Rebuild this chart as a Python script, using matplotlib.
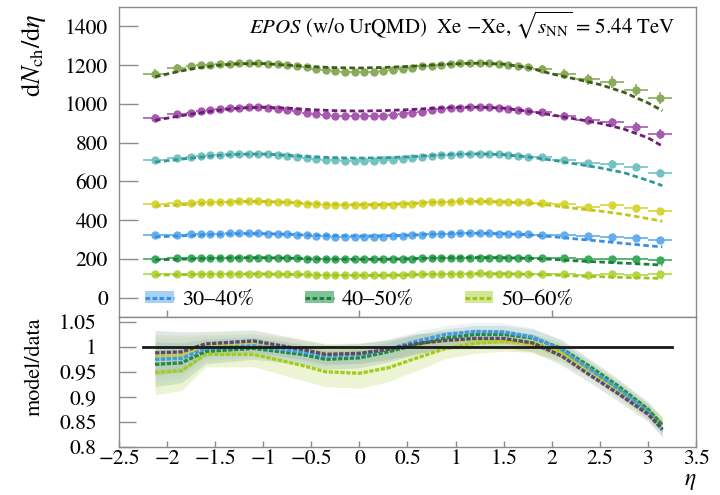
import matplotlib
matplotlib.use("Agg")
import matplotlib.pyplot as plt
from matplotlib.patches import Patch
from matplotlib.lines import Line2D
from matplotlib.ticker import FixedLocator, FuncFormatter

plt.rcParams['font.family'] = ['STIXGeneral', 'DejaVu Serif']
plt.rcParams['mathtext.fontset'] = 'stix'

# ---------------- data ----------------
eta = [-2.125, -1.9, -1.75, -1.65, -1.55, -1.45, -1.35, -1.25, -1.15, -1.05, -0.95,
       -0.85, -0.75, -0.65, -0.55, -0.45, -0.35, -0.25, -0.15, -0.05, 0.05, 0.15,
       0.25, 0.35, 0.45, 0.55, 0.65, 0.75, 0.85, 0.95, 1.05, 1.15, 1.25, 1.35, 1.45,
       1.55, 1.65, 1.75, 1.9, 2.125, 2.375, 2.625, 2.875, 3.125]
eta_halfwidth = [0.125, 0.1, 0.05, 0.05, 0.05, 0.05, 0.05, 0.05, 0.05, 0.05, 0.05,
                 0.05, 0.05, 0.05, 0.05, 0.05, 0.05, 0.05, 0.05, 0.05, 0.05, 0.05,
                 0.05, 0.05, 0.05, 0.05, 0.05, 0.05, 0.05, 0.05, 0.05, 0.05, 0.05, 0.05, 0.05,
                 0.05, 0.05, 0.05, 0.1, 0.125, 0.125, 0.125, 0.125, 0.125]
rel_err = [0.02, 0.018, 0.012, 0.012, 0.012, 0.012, 0.012, 0.012, 0.012, 0.012, 0.012,
           0.012, 0.012, 0.012, 0.012, 0.012, 0.012, 0.012, 0.012, 0.012, 0.012, 0.012,
           0.012, 0.012, 0.012, 0.012, 0.012, 0.012, 0.012, 0.012, 0.012, 0.012, 0.012, 0.012, 0.012,
           0.012, 0.012, 0.012, 0.018, 0.022, 0.025, 0.027, 0.028, 0.03]

data_0_5 = [1156, 1185, 1195, 1200, 1203, 1205, 1208, 1210, 1212, 1210, 1208, 1205, 1200, 1195,
            1188, 1180, 1175, 1170, 1167, 1166, 1166, 1167, 1170, 1175, 1180, 1187, 1193, 1198,
            1203, 1206, 1209, 1211, 1212, 1210, 1207, 1200, 1197, 1192, 1180, 1156, 1128, 1112,
            1072, 1032]
data_5_10 = [927, 948, 955, 962, 968, 972, 977, 980, 982, 982, 980, 976, 970, 962, 955, 948,
             943, 940, 938, 937, 937, 938, 940, 943, 947, 953, 960, 967, 973, 977, 980, 982,
             983, 982, 979, 975, 970, 965, 958, 937, 915, 905, 880, 843]
data_10_20 = [712, 722, 727, 730, 734, 737, 740, 741, 742, 741, 739, 735, 731, 726, 720, 715,
              711, 708, 706, 705, 705, 706, 708, 711, 715, 720, 725, 730, 734, 738, 741, 742,
              743, 742, 739, 735, 731, 728, 726, 712, 695, 692, 674, 645]
data_20_30 = [481, 487, 490, 492, 494, 495, 496, 497, 497, 497, 496, 494, 491, 488, 485, 482,
              480, 478, 477, 476, 476, 477, 478, 480, 482, 485, 488, 491, 494, 496, 497, 498,
              498, 497, 496, 494, 492, 491, 490, 482, 470, 476, 461, 447]
data_30_40 = [322, 325, 327, 328, 329, 330, 331, 331, 331, 331, 330, 328, 326, 324, 321, 319,
              317, 315, 314, 314, 314, 314, 315, 317, 319, 321, 324, 326, 328, 330, 331, 332,
              332, 331, 330, 329, 328, 327, 325, 321, 317, 315, 309, 300]
data_40_50 = [201, 203, 204, 205, 205, 206, 206, 207, 207, 207, 206, 205, 204, 203, 201, 200,
              199, 198, 198, 197, 197, 198, 198, 199, 200, 201, 203, 204, 205, 206, 207, 207,
              207, 207, 206, 206, 205, 205, 204, 202, 199, 201, 198, 193]
data_50_60 = [121, 122, 122, 123, 123, 124, 124, 124, 124, 124, 124, 123, 122, 121, 120, 119,
              119, 118, 118, 118, 118, 118, 118, 119, 119, 120, 121, 122, 123, 124, 124, 124,
              125, 124, 124, 124, 123, 123, 122, 121, 118, 121, 118, 120]

eta_model = [-2.125, -1.9, -1.75, -1.5, -1.25, -1.0, -0.75, -0.5, -0.25, 0.0, 0.25, 0.5,
             0.75, 1.0, 1.25, 1.5, 1.75, 2.0, 2.25, 2.5, 2.75, 3.0, 3.15]
model_0_5 = [1140, 1165, 1180, 1198, 1207, 1208, 1200, 1192, 1187, 1185, 1188, 1193, 1200,
             1207, 1210, 1205, 1188, 1155, 1128, 1100, 1060, 1005, 965]
model_5_10 = [915, 935, 947, 965, 978, 983, 978, 970, 965, 963, 965, 970, 977, 982, 983, 978,
              962, 943, 922, 900, 870, 825, 782]
model_10_20 = [700, 712, 720, 733, 740, 741, 735, 727, 722, 720, 722, 727, 734, 740, 742, 738,
               727, 710, 690, 670, 645, 605, 578]
model_20_30 = [472, 478, 482, 490, 495, 496, 492, 485, 481, 480, 481, 485, 491, 495, 496, 494,
               488, 476, 460, 447, 430, 408, 395]
model_30_40 = [313, 318, 321, 326, 330, 330, 327, 322, 319, 318, 319, 322, 327, 331, 332, 330,
               324, 315, 303, 292, 280, 268, 262]
model_40_50 = [195, 198, 200, 203, 206, 206, 204, 200, 198, 198, 198, 200, 204, 206, 207, 206,
               203, 198, 190, 184, 178, 172, 168]
model_50_60 = [116, 118, 119, 121, 122, 122, 120, 117, 115, 114, 115, 117, 120, 122, 123, 123,
               121, 117, 112, 108, 104, 101, 99]

# ratio panel
eta_ratio = [-2.125, -1.85, -1.6, -1.1, -0.6, -0.35, 0.0, 0.3, 0.6, 0.9, 1.2, 1.5, 1.8, 2.1,
             2.4, 2.7, 3.0, 3.15]
ratio_dark = [0.988, 0.990, 1.006, 1.012, 0.995, 0.985, 0.987, 0.995, 1.007, 1.013, 1.017,
              1.017, 1.008, 0.982, 0.943, 0.905, 0.865, 0.835]
ratio_blue = [0.975, 0.977, 0.997, 1.002, 0.990, 0.982, 0.985, 0.995, 1.012, 1.025, 1.031,
              1.030, 1.020, 0.995, 0.955, 0.915, 0.870, 0.833]
ratio_green = [0.965, 0.968, 0.991, 0.997, 0.985, 0.975, 0.978, 0.990, 1.005, 1.018, 1.025,
               1.025, 1.018, 0.997, 0.960, 0.920, 0.875, 0.843]
ratio_yellow = [0.980, 0.983, 1.000, 1.005, 0.995, 0.987, 0.988, 0.993, 1.005, 1.013, 1.015,
                1.013, 1.005, 0.988, 0.952, 0.912, 0.870, 0.840]
ratio_ygreen = [0.949, 0.952, 0.985, 0.985, 0.963, 0.950, 0.947, 0.958, 0.978, 0.997, 1.007,
                1.011, 1.008, 0.990, 0.955, 0.915, 0.872, 0.845]
band_main = [0.045, 0.040, 0.025, 0.022, 0.020, 0.020, 0.020, 0.020, 0.020, 0.018, 0.018,
             0.018, 0.018, 0.018, 0.015, 0.015, 0.015, 0.015]
band_low = [0.045, 0.040, 0.025, 0.025, 0.030, 0.030, 0.030, 0.028, 0.025, 0.020, 0.020,
            0.020, 0.018, 0.018, 0.015, 0.015, 0.015, 0.015]
ref_eta = [-2.25, 3.25]
ref_val = [1.0, 1.0]

labels = ['0\u20135%', '5\u201310%', '10\u201320%', '20\u201330%', '30\u201340%', '40\u201350%', '50\u201360%']
data_series = [data_0_5, data_5_10, data_10_20, data_20_30, data_30_40, data_40_50, data_50_60]
model_series = [model_0_5, model_5_10, model_10_20, model_20_30, model_30_40, model_40_50, model_50_60]
data_colors = ['#8aab5c', '#a65aae', '#76c2c0', '#d6d63a', '#62aef0', '#3daa5e', '#b5d545']
model_colors = ['#3e5e18', '#6e1c76', '#2f9a9c', '#c4c41a', '#3b8fe0', '#1c7d3c', '#9dc41e']
patch_colors = ['#c0d8a0', '#d8b0e0', '#b0e0e0', '#eaeaa0', '#a8d0f4', '#80c496', '#d2e894']

# ---------------- figure ----------------
fig = plt.figure(figsize=(7.2, 4.95), dpi=100)
W, H = 720.0, 495.0
x0, x1 = 119, 696
ax1 = fig.add_axes([x0 / W, 1 - 317 / H, (x1 - x0) / W, (317 - 7) / H])
ax2 = fig.add_axes([x0 / W, 1 - 446.5 / H, (x1 - x0) / W, (446.5 - 317) / H])

spine_col = '#8c8c8c'
for ax in (ax1, ax2):
    for s in ax.spines.values():
        s.set_color(spine_col)
        s.set_linewidth(1.0)
    ax.set_xlim(-2.5, 3.5)

# upper panel
for d, m, dc, mc in zip(data_series, model_series, data_colors, model_colors):
    yerr = [v * r for v, r in zip(d, rel_err)]
    ax1.errorbar(eta, d, xerr=eta_halfwidth, yerr=yerr, fmt='o', ms=5, color=dc,
                 ecolor=dc, elinewidth=1.2, capsize=0, zorder=2)
    ax1.plot(eta_model, m, color=mc, lw=2.0, dashes=(2.0, 1.2), zorder=3)

ax1.set_ylim(-100, 1500)
ax1.yaxis.set_major_locator(FixedLocator([0, 200, 400, 600, 800, 1000, 1200, 1400]))
ax1.xaxis.set_major_locator(FixedLocator([-2, 0, 2]))
ax1.tick_params(axis='y', direction='in', length=14, width=1, color=spine_col,
                labelsize=15.5, pad=8, right=False)
ax1.tick_params(axis='x', direction='in', length=5, width=1, color=spine_col,
                labelbottom=False, top=False)
ax1.set_ylabel(r'd$N_{\rm ch}$/d$\eta$', fontsize=19)
ax1.yaxis.set_label_coords(-0.123, 0.845)

ax1.text(0.9636, 0.942,
         '$\\mathit{EPOS}$ (w/o UrQMD)  Xe \u2212Xe, $\\sqrt{s_{\\rm NN}}$ = 5.44 TeV',
         transform=ax1.transAxes, ha='right', va='center', fontsize=15)

handles = []
for i in (4, 5, 6):
    handles.append((Patch(facecolor=patch_colors[i], edgecolor='none'),
                    Line2D([], [], color=model_colors[i], lw=2.2, dashes=(1.5, 0.8))))
ax1.legend(handles, [labels[4], labels[5], labels[6]], ncol=3, frameon=False,
           loc='center left', bbox_to_anchor=(0.045, 0.055), fontsize=16,
           handlelength=1.3, handleheight=0.5, handletextpad=0.35, columnspacing=2.3,
           borderpad=0, borderaxespad=0)

# lower panel
ax2.fill_between(eta_ratio, [r - b for r, b in zip(ratio_ygreen, band_low)],
                 [r + b for r, b in zip(ratio_ygreen, band_low)],
                 color='#dfecb0', alpha=0.55, lw=0, zorder=1)
ax2.fill_between(eta_ratio, [r - b for r, b in zip(ratio_yellow, band_main)],
                 [r + b for r, b in zip(ratio_yellow, band_main)],
                 color='#e6eab0', alpha=0.4, lw=0, zorder=1)
for rr, bc in ((ratio_green, '#6fa080'), (ratio_dark, '#7a9a80'), (ratio_blue, '#a8cce0')):
    ax2.fill_between(eta_ratio, [r - b for r, b in zip(rr, band_main)],
                     [r + b for r, b in zip(rr, band_main)],
                     color=bc, alpha=0.22, lw=0, zorder=1)

ax2.plot(ref_eta, ref_val, color='#1a1a1a', lw=2.0, zorder=4)
for rr, c in ((ratio_ygreen, '#a4cc1e'), (ratio_yellow, '#c9c92a'), (ratio_green, '#1f8a4c'),
              (ratio_blue, '#3d9be9'), (ratio_dark, '#5b4b6b')):
    ax2.plot(eta_ratio, rr, color=c, lw=2.4, dashes=(1.3, 0.45), zorder=3)

ax2.set_ylim(0.8, 1.06)
ax2.yaxis.set_major_locator(FixedLocator([0.8, 0.85, 0.9, 0.95, 1.0, 1.05]))
ax2.yaxis.set_major_formatter(FuncFormatter(lambda v, p: '%g' % round(v, 3)))
ax2.xaxis.set_major_locator(FixedLocator([-2.5, -2, -1.5, -1, -0.5, 0, 0.5, 1, 1.5, 2, 2.5, 3, 3.5]))
ax2.xaxis.set_major_formatter(FuncFormatter(lambda v, p: ('%g' % v).replace('-', '\u2212')))
ax2.tick_params(axis='y', direction='in', length=12, width=1, color=spine_col,
                labelsize=15.5, pad=16, right=False)
ax2.tick_params(axis='x', direction='in', length=4, width=1, color=spine_col,
                labelsize=15.5, pad=2, top=False)
ax2.set_ylabel('model/data', fontsize=16)
ax2.yaxis.set_label_coords(-0.128, 0.618)

fig.text(690 / W, 1 - 481 / H, r'$\eta$', ha='center', va='center', fontsize=17)

fig.savefig('out.png', dpi=100)
